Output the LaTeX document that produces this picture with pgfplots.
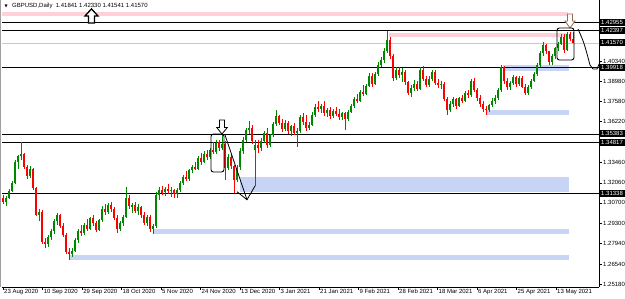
\documentclass[border=0pt]{standalone}
\usepackage{fontspec}
\setmainfont{Liberation Sans}
\newfontfamily\dejavu{DejaVu Sans}
\usepackage{pgfplots}
\usepackage{pgfplotstable}
\pgfplotsset{compat=1.18}
\definecolor{bull}{RGB}{0,135,0}
\definecolor{bear}{RGB}{255,0,0}
\definecolor{zonepink}{RGB}{255,208,216}
\definecolor{zoneblue}{RGB}{200,212,245}
\definecolor{pricegray}{RGB}{200,200,200}
\definecolor{arrowbrown}{RGB}{150,110,80}

\pgfplotstableread{
x o h l c
3 1.3100 1.3125 1.3060 1.3075
6 1.3075 1.3115 1.3050 1.3105
9 1.3105 1.3165 1.3095 1.3150
12 1.3150 1.3215 1.3140 1.3205
15 1.3205 1.3360 1.3195 1.3345
18 1.3345 1.3395 1.3300 1.3385
21 1.3385 1.3480 1.3360 1.3400
24 1.3400 1.3410 1.3300 1.3315
27 1.3315 1.3330 1.3235 1.3250
30 1.3250 1.3320 1.3240 1.3300
33 1.3300 1.3310 1.3160 1.3170
36 1.3170 1.3180 1.2980 1.2990
39 1.2990 1.3030 1.2945 1.3010
42 1.3010 1.3020 1.2790 1.2805
45 1.2805 1.2830 1.2765 1.2790
48 1.2790 1.2850 1.2770 1.2840
51 1.2840 1.2890 1.2820 1.2880
54 1.2880 1.2960 1.2860 1.2945
57 1.2945 1.3000 1.2920 1.2985
60 1.2985 1.2995 1.2900 1.2915
63 1.2915 1.2930 1.2835 1.2850
66 1.2850 1.2865 1.2720 1.2735
69 1.2735 1.2760 1.2680 1.2720
72 1.2720 1.2760 1.2700 1.2745
75 1.2745 1.2830 1.2735 1.2820
78 1.2820 1.2890 1.2800 1.2880
81 1.2880 1.2920 1.2845 1.2865
84 1.2865 1.2930 1.2850 1.2920
87 1.2920 1.2960 1.2880 1.2895
90 1.2895 1.2975 1.2885 1.2965
93 1.2965 1.2990 1.2910 1.2930
96 1.2930 1.2945 1.2870 1.2885
99 1.2885 1.2960 1.2875 1.2950
102 1.2950 1.3050 1.2940 1.3030
105 1.3030 1.3060 1.2990 1.3005
108 1.3005 1.3070 1.2995 1.3055
111 1.3055 1.3075 1.3010 1.3025
114 1.3025 1.3040 1.2950 1.2965
117 1.2965 1.2985 1.2865 1.2890
120 1.2890 1.2945 1.2880 1.2930
123 1.2930 1.2990 1.2915 1.2975
126 1.2975 1.3177 1.2965 1.3105
129 1.3105 1.3125 1.3030 1.3045
132 1.3045 1.3070 1.3000 1.3055
135 1.3055 1.3075 1.3000 1.3015
138 1.3015 1.3060 1.2990 1.3040
141 1.3040 1.3050 1.2970 1.2985
144 1.2985 1.3010 1.2920 1.2935
147 1.2935 1.2990 1.2915 1.2975
150 1.2975 1.2985 1.2870 1.2895
153 1.2895 1.2925 1.2855 1.2910
156 1.2910 1.3145 1.2900 1.3120
159 1.3120 1.3180 1.3090 1.3160
162 1.3160 1.3185 1.3120 1.3140
165 1.3140 1.3175 1.3115 1.3165
168 1.3165 1.3200 1.3130 1.3150
171 1.3150 1.3175 1.3110 1.3160
174 1.3160 1.3165 1.3100 1.3130
177 1.3130 1.3170 1.3105 1.3155
180 1.3155 1.3215 1.3140 1.3205
183 1.3205 1.3260 1.3190 1.3245
186 1.3245 1.3285 1.3220 1.3230
189 1.3230 1.3300 1.3215 1.3290
192 1.3290 1.3330 1.3270 1.3315
195 1.3315 1.3350 1.3290 1.3300
198 1.3300 1.3390 1.3295 1.3375
201 1.3375 1.3410 1.3330 1.3350
204 1.3350 1.3420 1.3340 1.3405
207 1.3405 1.3430 1.3360 1.3380
210 1.3380 1.3440 1.3370 1.3430
213 1.3430 1.3480 1.3400 1.3415
216 1.3415 1.3495 1.3405 1.3480
219 1.3480 1.3500 1.3420 1.3440
222 1.3440 1.3540 1.3430 1.3470
225 1.3470 1.3490 1.3225 1.3310
228 1.3310 1.3400 1.3290 1.3380
231 1.3380 1.3405 1.3300 1.3320
234 1.3320 1.3330 1.3135 1.3225
237 1.3225 1.3330 1.3210 1.3310
240 1.3310 1.3440 1.3290 1.3425
243 1.3425 1.3520 1.3400 1.3500
246 1.3500 1.3580 1.3480 1.3565
249 1.3565 1.3624 1.3540 1.3580
252 1.3580 1.3600 1.3470 1.3490
255 1.3430 1.3500 1.3185 1.3460
258 1.3460 1.3500 1.3410 1.3440
261 1.3440 1.3510 1.3420 1.3490
264 1.3490 1.3560 1.3475 1.3545
267 1.3545 1.3580 1.3440 1.3460
270 1.3460 1.3540 1.3450 1.3530
273 1.3530 1.3620 1.3520 1.3605
276 1.3605 1.3700 1.3590 1.3660
279 1.3660 1.3670 1.3600 1.3615
282 1.3615 1.3640 1.3550 1.3570
285 1.3570 1.3630 1.3555 1.3615
288 1.3615 1.3625 1.3540 1.3555
291 1.3555 1.3600 1.3525 1.3590
294 1.3590 1.3610 1.3530 1.3545
297 1.3545 1.3580 1.3450 1.3560
300 1.3560 1.3670 1.3545 1.3655
303 1.3655 1.3680 1.3600 1.3620
306 1.3620 1.3665 1.3560 1.3580
309 1.3580 1.3620 1.3565 1.3600
312 1.3600 1.3690 1.3590 1.3670
315 1.3670 1.3740 1.3655 1.3720
318 1.3720 1.3760 1.3690 1.3705
321 1.3705 1.3745 1.3680 1.3730
324 1.3730 1.3760 1.3660 1.3680
327 1.3680 1.3715 1.3650 1.3700
330 1.3700 1.3720 1.3640 1.3660
333 1.3660 1.3710 1.3645 1.3695
336 1.3695 1.3720 1.3660 1.3675
339 1.3675 1.3705 1.3635 1.3650
342 1.3650 1.3690 1.3635 1.3680
345 1.3680 1.3690 1.3565 1.3640
348 1.3640 1.3700 1.3625 1.3690
351 1.3690 1.3740 1.3680 1.3730
354 1.3730 1.3790 1.3715 1.3775
357 1.3775 1.3810 1.3750 1.3765
360 1.3765 1.3835 1.3755 1.3820
363 1.3820 1.3870 1.3795 1.3810
366 1.3810 1.3880 1.3800 1.3865
369 1.3865 1.3950 1.3855 1.3935
372 1.3935 1.3955 1.3860 1.3880
375 1.3880 1.3960 1.3870 1.3945
378 1.3945 1.4030 1.3930 1.4010
381 1.4010 1.4060 1.3990 1.4040
384 1.4040 1.4120 1.4020 1.4105
387 1.4105 1.4235 1.4090 1.4180
390 1.4180 1.4200 1.4050 1.4070
393 1.4070 1.4080 1.3900 1.3920
396 1.3920 1.3995 1.3905 1.3975
399 1.3975 1.3990 1.3920 1.3940
402 1.3940 1.3985 1.3890 1.3960
405 1.3960 1.3970 1.3870 1.3890
408 1.3890 1.3900 1.3800 1.3815
411 1.3815 1.3870 1.3790 1.3850
414 1.3850 1.3905 1.3830 1.3880
417 1.3880 1.3895 1.3830 1.3845
420 1.3845 1.3990 1.3835 1.3975
423 1.3975 1.4000 1.3895 1.3910
426 1.3910 1.3935 1.3855 1.3870
429 1.3870 1.3930 1.3860 1.3915
432 1.3915 1.3975 1.3900 1.3960
435 1.3960 1.3970 1.3870 1.3885
438 1.3885 1.3910 1.3850 1.3870
441 1.3870 1.3895 1.3845 1.3880
444 1.3880 1.3890 1.3760 1.3775
447 1.3775 1.3790 1.3670 1.3700
450 1.3700 1.3760 1.3690 1.3745
453 1.3745 1.3790 1.3720 1.3775
456 1.3775 1.3785 1.3710 1.3730
459 1.3730 1.3790 1.3720 1.3780
462 1.3780 1.3800 1.3750 1.3765
465 1.3765 1.3830 1.3755 1.3815
468 1.3815 1.3840 1.3780 1.3800
471 1.3800 1.3910 1.3790 1.3895
474 1.3895 1.3920 1.3820 1.3840
477 1.3840 1.3850 1.3760 1.3780
480 1.3780 1.3800 1.3720 1.3740
483 1.3740 1.3760 1.3690 1.3710
486 1.3710 1.3730 1.3667 1.3700
489 1.3700 1.3745 1.3690 1.3735
492 1.3735 1.3780 1.3720 1.3765
495 1.3765 1.3800 1.3740 1.3785
498 1.3785 1.3850 1.3770 1.3835
501 1.3835 1.4010 1.3825 1.3990
504 1.3990 1.4000 1.3880 1.3900
507 1.3900 1.3920 1.3840 1.3855
510 1.3855 1.3900 1.3835 1.3885
513 1.3885 1.3940 1.3870 1.3925
516 1.3925 1.3935 1.3860 1.3875
519 1.3875 1.3935 1.3865 1.3920
522 1.3920 1.3930 1.3850 1.3860
525 1.3860 1.3875 1.3800 1.3815
528 1.3815 1.3870 1.3805 1.3860
531 1.3860 1.3910 1.3845 1.3900
534 1.3900 1.3960 1.3890 1.3945
537 1.3945 1.4020 1.3935 1.4005
540 1.4005 1.4100 1.3995 1.4085
543 1.4085 1.4166 1.4070 1.4145
546 1.4145 1.4150 1.4080 1.4100
549 1.4100 1.4105 1.4010 1.4030
552 1.4030 1.4080 1.4005 1.4065
555 1.4065 1.4130 1.4050 1.4120
558 1.4120 1.4160 1.4100 1.4150
561 1.4150 1.4220 1.4140 1.4200
564 1.4200 1.4220 1.4090 1.4110
567 1.4110 1.4230 1.4100 1.4215
570 1.4215 1.4230 1.4170 1.4184
573 1.41841 1.42330 1.41541 1.41570
}\ohlc

\tikzset{lvlabel/.style={anchor=west, fill=black, text=white, inner xsep=2pt, inner ysep=0pt, minimum height=7pt, font=\fontsize{6}{7}\selectfont}}

\begin{document}
\begin{tikzpicture}
\useasboundingbox (0,0) rectangle (625pt,299pt);
\draw[gray!75, line width=1.2pt] (0.8pt,12pt) -- (0.8pt,299pt);
\begin{axis}[
  at={(2pt,12pt)}, anchor=south west,
  scale only axis, width=597pt, height=287pt,
  xmin=2, xmax=599, ymin=1.24976, ymax=1.44487,
  clip=false,
  axis x line*=bottom, axis y line*=right,
  axis line style={black, line width=0.6pt},
  tick align=outside, major tick length=3pt,
  tick style={black, line width=0.5pt},
  scaled y ticks=false,
  xtick={3,42.6,82.1,121.5,161,200.5,240,279.5,319,358.5,398,437.5,477,516.5,556},
  xticklabels={23 Aug 2020,10 Sep 2020,29 Sep 2020,18 Oct 2020,5 Nov 2020,24 Nov 2020,13 Dec 2020,3 Jan 2021,21 Jan 2021,9 Feb 2021,28 Feb 2021,18 Mar 2021,6 Apr 2021,25 Apr 2021,13 May 2021},
  xticklabel style={anchor=north west, inner sep=0pt, xshift=1pt, yshift=1pt, font=\fontsize{6}{7}\selectfont},
  ytick={1.2518,1.2654,1.2794,1.2930,1.3070,1.3206,1.3346,1.3622,1.3758,1.3898,1.4034},
  yticklabels={1.25180,1.26540,1.27940,1.29300,1.30700,1.32060,1.33460,1.36220,1.37580,1.38980,1.40340},
  yticklabel style={anchor=west, inner sep=0pt, xshift=1pt, font=\fontsize{6}{7}\selectfont},
]
% zones
\addplot[draw=none, fill=zonepink, forget plot] coordinates {(2,1.43671) (568,1.43671) (568,1.43399) (2,1.43399)} -- cycle;
\addplot[draw=none, fill=zonepink, forget plot] coordinates {(389,1.42243) (568,1.42243) (568,1.41971) (389,1.41971)} -- cycle;
\addplot[draw=none, fill=zoneblue, forget plot] coordinates {(503,1.40068) (569,1.40068) (569,1.39660) (503,1.39660)} -- cycle;
\addplot[draw=none, fill=zoneblue, forget plot] coordinates {(487,1.37007) (569,1.37007) (569,1.36667) (487,1.36667)} -- cycle;
\addplot[draw=none, fill=zoneblue, forget plot] coordinates {(240,1.32454) (569,1.32454) (569,1.31434) (240,1.31434)} -- cycle;
\addplot[draw=none, fill=zoneblue, forget plot] coordinates {(153,1.28919) (569,1.28919) (569,1.28579) (153,1.28579)} -- cycle;
\addplot[draw=none, fill=zoneblue, forget plot] coordinates {(69,1.27151) (569,1.27151) (569,1.26811) (69,1.26811)} -- cycle;
% levels
\addplot[pricegray, line width=0.7pt, forget plot] coordinates {(2,1.41570) (599,1.41570)};
\addplot[black, line width=0.8pt, forget plot] coordinates {(2,1.42955) (599,1.42955)};
\addplot[black, line width=0.8pt, forget plot] coordinates {(2,1.42397) (599,1.42397)};
\addplot[black, line width=0.8pt, forget plot] coordinates {(2,1.39918) (599,1.39918)};
\addplot[black, line width=0.8pt, forget plot] coordinates {(2,1.35383) (599,1.35383)};
\addplot[black, line width=0.8pt, forget plot] coordinates {(2,1.34817) (599,1.34817)};
\addplot[black, line width=0.8pt, forget plot] coordinates {(2,1.31338) (599,1.31338)};
% wicks
\addplot[draw=none, mark=none, forget plot, error bars/.cd, y dir=both, y explicit, error mark=none,
  error bar style={draw=bull, solid, line width=0.6pt}]
  table[x=x, y expr={ifthenelse(\thisrow{c}>=\thisrow{o},(\thisrow{h}+\thisrow{l})/2,nan)}, y error expr={(\thisrow{h}-\thisrow{l})/2}] {\ohlc};
\addplot[draw=none, mark=none, forget plot, error bars/.cd, y dir=both, y explicit, error mark=none,
  error bar style={draw=bear, solid, line width=0.6pt}]
  table[x=x, y expr={ifthenelse(\thisrow{c}<\thisrow{o},(\thisrow{h}+\thisrow{l})/2,nan)}, y error expr={(\thisrow{h}-\thisrow{l})/2}] {\ohlc};
% bodies
\addplot[draw=none, mark=none, forget plot, error bars/.cd, y dir=both, y explicit, error mark=none,
  error bar style={draw=bull, solid, line width=2pt}]
  table[x=x, y expr={ifthenelse(\thisrow{c}>=\thisrow{o},(\thisrow{o}+\thisrow{c})/2,nan)}, y error expr={max((\thisrow{c}-\thisrow{o})/2,0.00005)}] {\ohlc};
\addplot[draw=none, mark=none, forget plot, error bars/.cd, y dir=both, y explicit, error mark=none,
  error bar style={draw=bear, solid, line width=2pt}]
  table[x=x, y expr={ifthenelse(\thisrow{c}<\thisrow{o},(\thisrow{o}+\thisrow{c})/2,nan)}, y error expr={max((\thisrow{o}-\thisrow{c})/2,0.00005)}] {\ohlc};
% annotations
\draw[black, line width=1.3pt, fill=white, line join=miter]
  (axis cs:91.5,1.4388) -- (axis cs:98,1.4340) -- (axis cs:94.5,1.4340) -- (axis cs:94.5,1.4292)
  -- (axis cs:88.5,1.4292) -- (axis cs:88.5,1.4340) -- (axis cs:85,1.4340) -- cycle;
\draw[black, line width=0.8pt, fill=white]
  (axis cs:219.5,1.36329) -- (axis cs:224.5,1.36329) -- (axis cs:224.5,1.35819) -- (axis cs:227.3,1.35819)
  -- (axis cs:222,1.35377) -- (axis cs:216.7,1.35819) -- (axis cs:219.5,1.35819) -- cycle;
\draw[arrowbrown, line width=0.8pt, fill=white]
  (axis cs:567.5,1.43535) -- (axis cs:572.5,1.43535) -- (axis cs:572.5,1.43059) -- (axis cs:575,1.43059)
  -- (axis cs:570,1.42583) -- (axis cs:565,1.43059) -- (axis cs:567.5,1.43059) -- cycle;
\draw[black, line width=0.9pt, rounded corners=2.5pt] (axis cs:211,1.35377) rectangle (axis cs:224,1.32794);
\draw[black, line width=0.9pt, rounded corners=2.5pt] (axis cs:557,1.42583) rectangle (axis cs:574,1.40408);
\draw[black, line width=0.8pt] (axis cs:225,1.35309) -- (axis cs:247,1.30907);
\draw[black, line width=0.8pt] (axis cs:237,1.31455) -- (axis cs:247,1.30907) -- (axis cs:255,1.31842);
\draw[black, line width=0.8pt] (axis cs:578,1.42515) .. controls (axis cs:584,1.4160) .. (axis cs:590,1.40068)
  -- (axis cs:593,1.39796) -- (axis cs:597,1.39796) -- (axis cs:600,1.40272);
% header
\node[anchor=west, inner sep=0pt, font=\dejavu\fontsize{4}{5}\selectfont] at (axis cs:4.5,1.4408) {▼};
\node[anchor=west, inner sep=0pt, font=\fontsize{6}{7}\selectfont] at (axis cs:12,1.4408) {GBPUSD,Daily\ \ 1.41841 1.42330 1.41541 1.41570};
% level labels
\node[lvlabel] at (axis cs:599,1.42955) {1.42955};
\node[lvlabel] at (axis cs:599,1.42397) {1.42397};
\node[lvlabel] at (axis cs:599,1.41570) {1.41570};
\node[lvlabel] at (axis cs:599,1.39918) {1.39918};
\node[lvlabel] at (axis cs:599,1.35383) {1.35383};
\node[lvlabel] at (axis cs:599,1.34817) {1.34817};
\node[lvlabel] at (axis cs:599,1.31338) {1.31338};
\end{axis}
\end{tikzpicture}
\end{document}
